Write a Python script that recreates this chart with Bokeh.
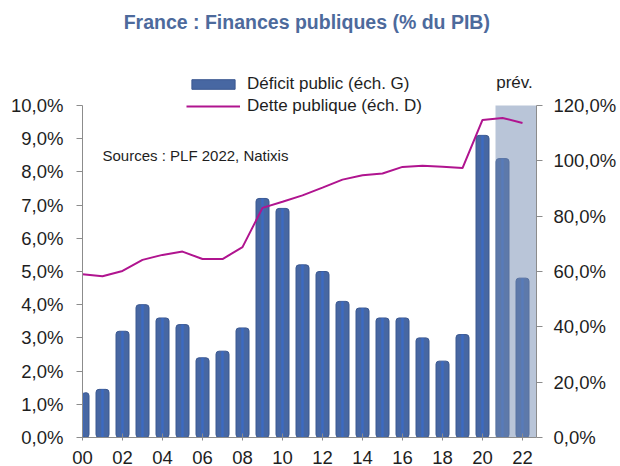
from bokeh.plotting import figure
from bokeh.models import (Range1d, LinearAxis, FixedTicker, Label, Legend,
                          LegendItem, ColumnDataSource)
from bokeh.embed import file_html
from bokeh.resources import INLINE

# ---------------- data ----------------
years = [2000, 2001, 2002, 2003, 2004, 2005, 2006, 2007, 2008, 2009, 2010, 2011,
         2012, 2013, 2014, 2015, 2016, 2017, 2018, 2019, 2020, 2021, 2022]
deficit = [1.35, 1.45, 3.2, 4.0, 3.6, 3.4, 2.4, 2.6, 3.3, 7.2, 6.9, 5.2,
           5.0, 4.1, 3.9, 3.6, 3.6, 3.0, 2.3, 3.1, 9.1, 8.4, 4.8]
debt = [59.0, 58.3, 60.2, 64.2, 66.0, 67.2, 64.5, 64.5, 68.8, 83.0, 85.2, 87.5,
        90.3, 93.2, 94.8, 95.4, 97.8, 98.2, 97.9, 97.4, 114.8, 115.5, 113.7]
forecast_start = 2021
x_tick_values = [2000, 2002, 2004, 2006, 2008, 2010, 2012, 2014, 2016, 2018, 2020, 2022]
x_tick_labels = ["00", "02", "04", "06", "08", "10", "12", "14", "16", "18", "20", "22"]
left_tick_values = [0, 1, 2, 3, 4, 5, 6, 7, 8, 9, 10]
left_tick_labels = ["0,0%", "1,0%", "2,0%", "3,0%", "4,0%", "5,0%", "6,0%",
                    "7,0%", "8,0%", "9,0%", "10,0%"]
right_tick_values = [0, 20, 40, 60, 80, 100, 120]
right_tick_labels = ["0,0%", "20,0%", "40,0%", "60,0%", "80,0%", "100,0%", "120,0%"]

title_text = "France : Finances publiques  (% du PIB)"
source_text = "Sources :  PLF 2022, Natixis"
forecast_text = "prév."
legend_labels = ["Déficit public (éch. G)", "Dette publique (éch. D)"]

# ---------------- layout ----------------
FONT = "Liberation Sans"
AXIS_COL = "#8c8c8c"
TXT_COL = "#1e1e1e"

W, H = 620, 466
FRAME_L, FRAME_R, FRAME_B = 82, 536, 437   # frame edges (px)
AXIS_TOP = 105                              # where 10% / 120% sit (px)
LEFT_MAX, RIGHT_MAX = left_tick_values[-1], right_tick_values[-1]
# frame spans the whole top so that title/legend live inside it;
# ranges are extended so that the axes' top values land at AXIS_TOP
stretch = FRAME_B / (FRAME_B - AXIS_TOP)

x0 = years[0]
src = ColumnDataSource(dict(x=[y - x0 for y in years], deficit=deficit, debt=debt))

p = figure(width=W, height=H, output_backend="svg", toolbar_location=None,
           x_range=Range1d(0, 22.7), y_range=Range1d(0, LEFT_MAX * stretch),
           min_border_left=FRAME_L, min_border_right=W - FRAME_R,
           min_border_top=0, min_border_bottom=H - FRAME_B)
p.outline_line_color = None
p.xgrid.visible = False
p.ygrid.visible = False
p.background_fill_color = "white"
p.border_fill_color = "white"
p.extra_y_ranges = {"debt": Range1d(0, RIGHT_MAX * stretch)}

# bars
bar_r = p.vbar(x="x", top="deficit", width=0.65, bottom=0, source=src,
               fill_color="#4767a2", line_color="#3b5890", line_width=1,
               border_radius=3)
p.vbar(x="x", top="deficit", width=0.12, bottom=0, source=src,
       fill_color="#3a6cc9", line_color=None, fill_alpha=0.8)

# forecast shading (drawn over the forecast bars, semi-transparent)
p.quad(left=[forecast_start - x0 - 0.35], right=[22.7], bottom=[0], top=[LEFT_MAX],
       fill_color="#738bb1", fill_alpha=0.5, line_color=None)

# debt line
line_r = p.line(x="x", y="debt", source=src, y_range_name="debt",
                line_color="#b0148f", line_width=2)

# axes
xa = p.xaxis[0]
xa.ticker = FixedTicker(ticks=[v - x0 for v in x_tick_values])
xa.major_label_overrides = {v - x0: lab for v, lab in zip(x_tick_values, x_tick_labels)}
xa.minor_tick_line_color = None
xa.major_tick_in = 4
xa.major_tick_out = 3
xa.major_label_standoff = 10
xa.axis_line_color = AXIS_COL
xa.major_tick_line_color = AXIS_COL
xa.major_label_text_font = FONT
xa.major_label_text_font_size = "18.5px"
xa.major_label_text_color = TXT_COL

ya = p.yaxis[0]
ya.ticker = FixedTicker(ticks=left_tick_values)
ya.bounds = (0, LEFT_MAX)
ya.major_label_overrides = {v: lab for v, lab in zip(left_tick_values, left_tick_labels)}
ya.minor_tick_line_color = None
ya.major_tick_in = 0
ya.major_tick_out = 6
ya.major_label_standoff = 13
ya.axis_line_color = AXIS_COL
ya.major_tick_line_color = AXIS_COL
ya.major_label_text_font = FONT
ya.major_label_text_font_size = "18.5px"
ya.major_label_text_color = TXT_COL

ra = LinearAxis(y_range_name="debt", ticker=FixedTicker(ticks=right_tick_values),
                bounds=(0, RIGHT_MAX))
ra.major_label_overrides = {v: lab for v, lab in zip(right_tick_values, right_tick_labels)}
ra.minor_tick_line_color = None
ra.major_tick_in = 0
ra.major_tick_out = 6
ra.major_label_standoff = 11
ra.axis_line_color = AXIS_COL
ra.major_tick_line_color = AXIS_COL
ra.major_label_text_font = FONT
ra.major_label_text_font_size = "18.5px"
ra.major_label_text_color = TXT_COL
p.add_layout(ra, "right")

# legend (location = bottom-left corner, px from the frame's bottom-left)
legend = Legend(items=[LegendItem(label=legend_labels[0], renderers=[bar_r]),
                       LegendItem(label=legend_labels[1], renderers=[line_r])],
                location=(104, 320), orientation="vertical",
                glyph_width=54, glyph_height=12, label_standoff=7,
                label_height=22, spacing=0, padding=0, margin=0,
                label_text_font=FONT, label_text_font_size="17px",
                label_text_color=TXT_COL,
                border_line_alpha=0, background_fill_alpha=0)
p.add_layout(legend, "center")

# texts (screen units relative to the plot frame's bottom-left corner)
p.add_layout(Label(x=227, y=416, x_units="screen", y_units="screen",
                   text=title_text, text_align="center", text_baseline="middle",
                   text_font=FONT, text_font_size="19.5px", text_font_style="bold",
                   text_color="#4d6a9c"))
p.add_layout(Label(x=20, y=282, x_units="screen", y_units="screen",
                   text=source_text, text_align="left", text_baseline="middle",
                   text_font=FONT, text_font_size="15px", text_color=TXT_COL))
p.add_layout(Label(x=432, y=355, x_units="screen", y_units="screen",
                   text=forecast_text, text_align="center", text_baseline="middle",
                   text_font=FONT, text_font_size="17px", text_color=TXT_COL))

open("out.html", "w").write(file_html(p, INLINE))
